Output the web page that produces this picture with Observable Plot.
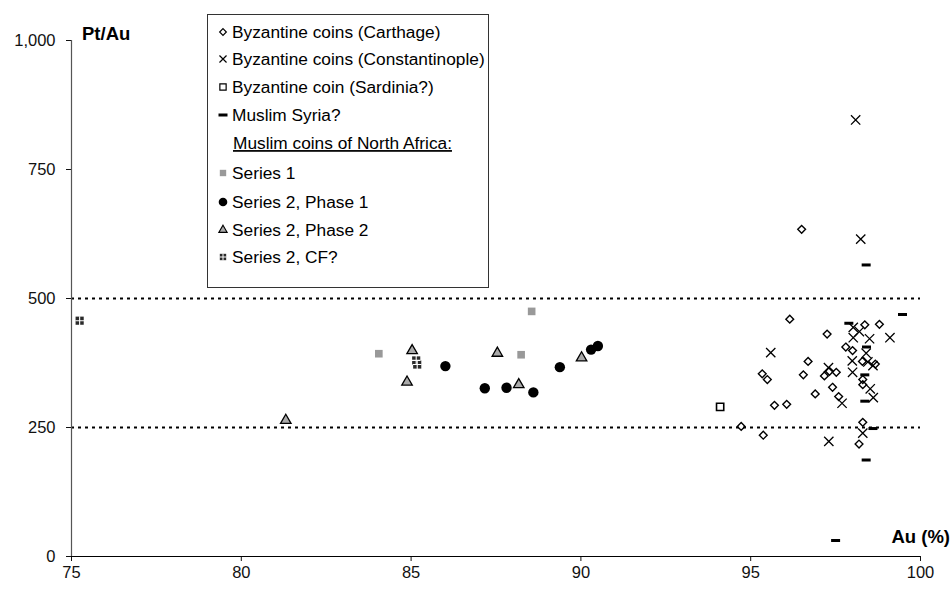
<!DOCTYPE html>
<html>
<head>
<meta charset="utf-8">
<script src="https://cdn.jsdelivr.net/npm/d3@7"></script>
<script src="https://cdn.jsdelivr.net/npm/@observablehq/plot@0.6"></script>
<style>
  body { margin: 0; background: #fff; }
  #chart { position: relative; width: 952px; height: 590px; }
</style>
</head>
<body>
<div id="chart"></div>
<script>
// Au (%) vs Pt/Au for each coin group: [Au, Pt/Au]
const carthage = [[96.50,634],[96.15,460],[98.36,449],[98.79,450],[97.25,431],[97.80,406],[98.00,399],[98.29,378],[98.67,373],[96.69,378],[95.34,354],[95.49,343],[96.55,352],[97.32,359],[97.52,357],[97.17,350],[98.30,343],[98.30,333],[97.41,328],[96.90,315],[97.59,310],[95.70,293],[96.06,295],[94.72,252],[95.37,235],[98.30,260],[98.19,218]];
const constantinople = [[98.09,846],[98.24,615],[98.02,444],[98.20,436],[99.10,424],[98.50,422],[98.02,424],[95.59,395],[98.40,394],[98.45,377],[98.60,370],[97.99,379],[97.29,366],[98.00,357],[98.52,325],[98.61,308],[97.69,297],[97.30,223],[98.30,239]];
const sardinia = [[94.10,290]];
const syria = [[99.47,469],[97.89,452],[98.41,406],[98.36,352],[98.36,301],[98.60,248],[98.40,187],[98.40,565],[97.50,31]];
const series1 = [[84.05,393],[88.55,475],[88.24,391]];
const phase1 = [[86.01,369],[87.17,326],[87.81,327],[88.60,318],[89.38,367],[90.30,401],[90.50,408]];
const phase2 = [[81.31,264],[85.03,399],[84.88,338],[87.54,394],[88.17,333],[90.02,385]];
const cf = [[75.24,457],[85.18,372],[85.15,380]];

const xTicks = [75, 80, 85, 90, 95, 100];
const yTicks = [0, 250, 500, 750, 1000];
const thresholds = [250, 500];

const legendLabels = [
  "Byzantine coins (Carthage)",
  "Byzantine coins (Constantinople)",
  "Byzantine coin (Sardinia?)",
  "Muslim Syria?",
  "Muslim coins of North Africa:",
  "Series 1",
  "Series 2, Phase 1",
  "Series 2, Phase 2",
  "Series 2, CF?"
];

// short horizontal bar marker
const dashSymbol = { draw(ctx) { ctx.rect(-4.5, -1.5, 9, 3); } };

const font = "'Liberation Sans', Arial, Helvetica, sans-serif";
const X = d => d[0], Y = d => d[1];

const plot = Plot.plot({
  width: 952,
  height: 590,
  marginLeft: 71,
  marginRight: 32,
  marginTop: 40,
  marginBottom: 34,
  style: { fontFamily: font, fontSize: "16.5px", background: "#fff", color: "#111" },
  x: { domain: [75, 100], ticks: xTicks, label: null, tickSize: 5, tickPadding: 5 },
  y: { domain: [0, 1000], ticks: yTicks, label: null, tickSize: 5, tickPadding: 11, tickFormat: d3.format(",") },
  marks: [
    Plot.ruleY(thresholds, { stroke: "#000", strokeWidth: 1.8, strokeDasharray: "3,4" }),
    Plot.ruleX([75], { y1: 0, y2: 1000, stroke: "#555", strokeWidth: 1.2 }),
    Plot.ruleY([0], { stroke: "#000", strokeWidth: 1.2 }),
    Plot.dot(carthage, { x: X, y: Y, symbol: "diamond2", r: 3.5, stroke: "#000", strokeWidth: 1.4, fill: "none" }),
    Plot.dot(constantinople, { x: X, y: Y, symbol: "times", r: 4.3, stroke: "#000", strokeWidth: 1.3 }),
    Plot.dot(sardinia, { x: X, y: Y, symbol: "square2", r: 4.6, stroke: "#000", strokeWidth: 1.6, fill: "#fff" }),
    Plot.dot(syria, { x: X, y: Y, symbol: dashSymbol, fill: "#000", stroke: "none" }),
    Plot.dot(series1, { x: X, y: Y, symbol: "square", r: 4.3, fill: "#999", stroke: "none" }),
    Plot.dot(phase1, { x: X, y: Y, symbol: "circle", r: 5.2, fill: "#000", stroke: "none" }),
    Plot.dot(phase2, { x: X, y: Y, symbol: "triangle", r: 3.9, fill: "#aaa", stroke: "#000", strokeWidth: 1.3 }),
    Plot.dot(cf, { x: X, y: Y, symbol: "square", r: 4.6, fill: "#2a2a2a", stroke: "none" }),
    Plot.dot(cf, { x: X, y: Y, symbol: "plus", r: 2.9, stroke: "#fff", strokeWidth: 1.1 })
  ]
});

document.getElementById("chart").appendChild(plot);

const svg = d3.select(plot);

// axis titles
svg.append("text").attr("x", 82).attr("y", 40).attr("text-anchor", "start")
  .attr("font-family", font).attr("font-size", 18.5).attr("font-weight", "bold").attr("fill", "#000")
  .text("Pt/Au");
svg.append("text").attr("x", 950).attr("y", 543).attr("text-anchor", "end")
  .attr("font-family", font).attr("font-size", 18.5).attr("font-weight", "bold").attr("fill", "#000")
  .text("Au (%)");

// legend box
const lg = svg.append("g").attr("font-family", font).attr("font-size", 17.3)
  .attr("fill", "#000").attr("text-anchor", "start");
lg.append("rect").attr("x", 207.5).attr("y", 14.5).attr("width", 281).attr("height", 273)
  .attr("fill", "#fff").attr("stroke", "#333").attr("stroke-width", 1);

const rowY = [32, 59, 87, 115, 143, 173, 202, 230, 257];
const sym = (type, size) => d3.symbol(type, size)();
const swatches = [
  g => g.append("path").attr("d", sym(d3.symbolDiamond2, Math.PI * 3.0 * 3.0)).attr("fill", "none").attr("stroke", "#000").attr("stroke-width", 1.2),
  g => g.append("path").attr("d", sym(d3.symbolTimes, Math.PI * 3.3 * 3.3)).attr("fill", "none").attr("stroke", "#000").attr("stroke-width", 1.2),
  g => g.append("path").attr("d", sym(d3.symbolSquare2, Math.PI * 4 * 4)).attr("fill", "#fff").attr("stroke", "#000").attr("stroke-width", 1.2),
  g => g.append("path").attr("d", sym(dashSymbol, 1)).attr("fill", "#000"),
  null,
  g => g.append("path").attr("d", sym(d3.symbolSquare, Math.PI * 3.6 * 3.6)).attr("fill", "#999"),
  g => g.append("path").attr("d", sym(d3.symbolCircle, Math.PI * 4.3 * 4.3)).attr("fill", "#000"),
  g => g.append("path").attr("d", sym(d3.symbolTriangle, Math.PI * 3.1 * 3.1)).attr("fill", "#aaa").attr("stroke", "#000").attr("stroke-width", 1.1),
  g => {
    g.append("path").attr("d", sym(d3.symbolSquare, Math.PI * 3.6 * 3.6)).attr("fill", "#2a2a2a");
    g.append("path").attr("d", sym(d3.symbolPlus, Math.PI * 2.3 * 2.3)).attr("fill", "none").attr("stroke", "#fff").attr("stroke-width", 1);
  }
];

legendLabels.forEach((label, i) => {
  const y = rowY[i];
  if (swatches[i]) {
    const g = lg.append("g").attr("transform", `translate(223,${y})`);
    swatches[i](g);
  }
  const t = lg.append("text").attr("x", i === 4 ? 233 : 232).attr("y", y).attr("dy", "0.35em").text(label);
  if (i === 4) t.attr("text-decoration", "underline");
});
</script>
</body>
</html>
